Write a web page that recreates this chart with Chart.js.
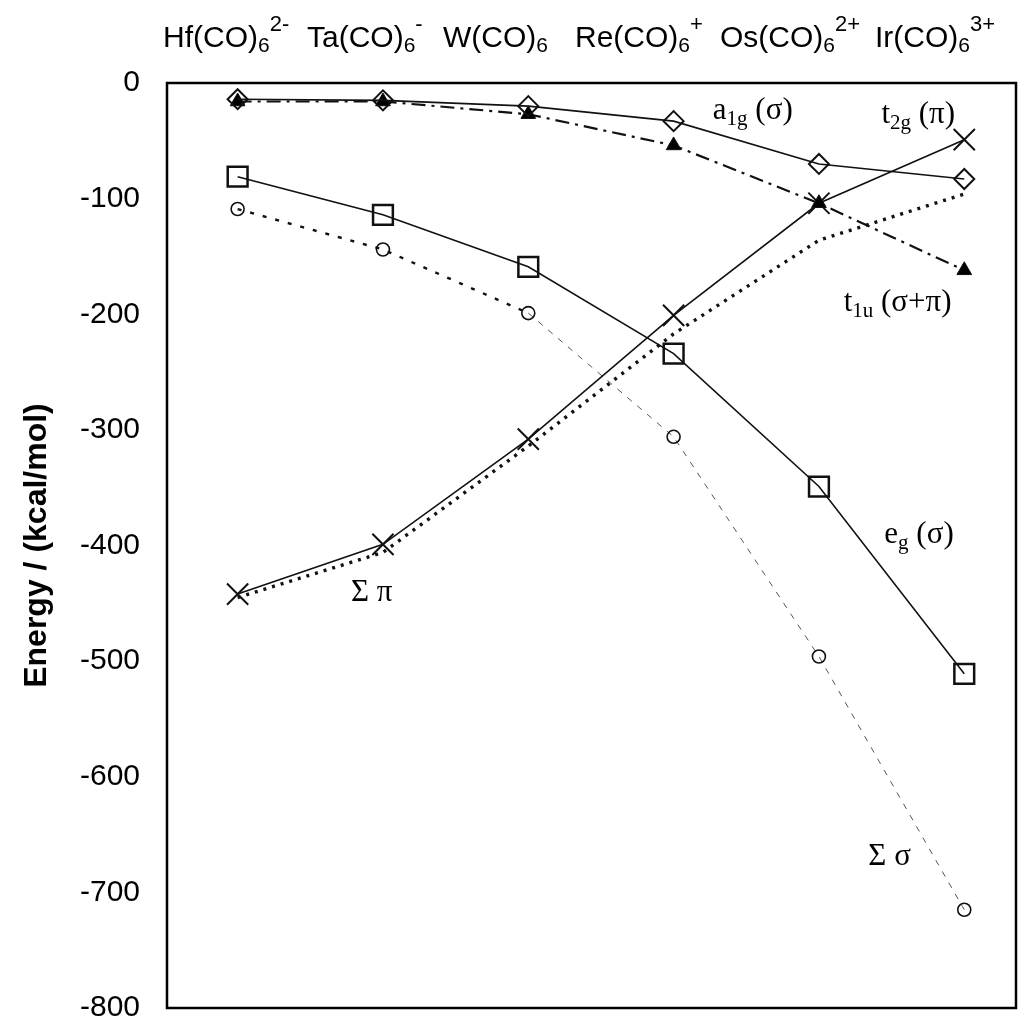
<!DOCTYPE html>
<html>
<head>
<meta charset="utf-8">
<script src="https://cdn.jsdelivr.net/npm/chart.js@4.4.1/dist/chart.umd.min.js"></script>
<style>
  html, body { margin: 0; padding: 0; background: #fff; }
  #wrap { width: 1033px; height: 1025px; }
</style>
</head>
<body>
<div id="wrap"><canvas id="c" width="1033" height="1025"></canvas></div>
<script>
// ---- data ----
const complexNames   = ['Hf(CO)', 'Ta(CO)', 'W(CO)', 'Re(CO)', 'Os(CO)', 'Ir(CO)'];
const complexSub     = ['6', '6', '6', '6', '6', '6'];
const complexCharge  = ['2-', '-', '', '+', '2+', '3+'];
const categoryIndex  = [1, 2, 3, 4, 5, 6];

const a1g      = [-14, -15, -20, -33, -70, -83];
const t1u      = [-16, -16, -27, -54, -104, -162];
const t2g      = [-442, -399, -308, -201, -104, -49];
const sumPi    = [-445, -406, -314, -217, -136, -96];
const eg       = [-81, -114, -159, -234, -349, -511];
const sumSigma = [-109, -144, -199, -306, -496, -715];

const yTicks = [0, -100, -200, -300, -400, -500, -600, -700, -800];

// ---- helpers ----
const pts = arr => arr.map((v, i) => ({ x: categoryIndex[i], y: v }));
const SANS = '"Liberation Sans", Arial, sans-serif';
const SERIF = '"Liberation Serif", "Times New Roman", serif';

function drawRuns(ctx, runs, x, y, opt) {
  let cx = x;
  ctx.textBaseline = 'alphabetic';
  ctx.textAlign = 'left';
  ctx.fillStyle = '#000';
  for (const r of runs) {
    if (!r.t) continue;
    let size = opt.size, dy = 0;
    if (r.sub) { size = opt.subSize; dy = opt.subDy; }
    if (r.sup) { size = opt.supSize || opt.subSize; dy = opt.supDy; }
    ctx.font = size + 'px ' + opt.family;
    ctx.fillText(r.t, cx, y + dy);
    cx += ctx.measureText(r.t).width;
  }
}

// annotation labels, placed in data coordinates
const curveLabels = [
  { x: 4.27, y: -31,  runs: [{t:'a'}, {t:'1g', sub:true}, {t:' (σ)'}] },
  { x: 5.43, y: -35,  runs: [{t:'t'}, {t:'2g', sub:true}, {t:' (π)'}] },
  { x: 5.17, y: -197, runs: [{t:'t'}, {t:'1u', sub:true}, {t:' (σ+π)'}] },
  { x: 5.45, y: -398, runs: [{t:'e'}, {t:'g', sub:true}, {t:' (σ)'}] },
  { x: 1.78, y: -448, runs: [{t:'Σ π'}] },
  { x: 5.34, y: -676, runs: [{t:'Σ σ'}] }
];

const topLabelX = [163, 307, 443, 575, 720, 875];

const decorPlugin = {
  id: 'decor',
  afterDatasetsDraw(chart) {
    const ctx = chart.ctx, a = chart.chartArea;
    const xs = chart.scales.x, ys = chart.scales.y;
    ctx.save();
    // frame
    ctx.strokeStyle = '#000';
    ctx.lineWidth = 2.5;
    ctx.strokeRect(a.left, a.top, a.right - a.left, a.bottom - a.top);
    // curve labels
    for (const l of curveLabels) {
      drawRuns(ctx, l.runs, xs.getPixelForValue(l.x), ys.getPixelForValue(l.y),
        { family: SERIF, size: 31, subSize: 21, subDy: 6, supDy: -12 });
    }
    // complex names above the plot
    for (let i = 0; i < complexNames.length; i++) {
      drawRuns(ctx, [{t: complexNames[i]}, {t: complexSub[i], sub: true}, {t: complexCharge[i], sup: true}],
        topLabelX[i], 47, { family: SANS, size: 30, subSize: 21, supSize: 22, subDy: 5, supDy: -16 });
    }
    ctx.restore();
  }
};

const base = { borderColor: '#111', borderWidth: 1.6, tension: 0, fill: false,
  pointBorderColor: '#111', pointBackgroundColor: 'rgba(0,0,0,0)' };

new Chart(document.getElementById('c'), {
  type: 'line',
  data: {
    datasets: [
      Object.assign({}, base, { label: 'a1g (σ)', data: pts(a1g), pointStyle: 'rectRot', pointRadius: 10, pointBorderWidth: 2 }),
      Object.assign({}, base, { label: 't1u (σ+π)', data: pts(t1u), borderWidth: 2.2, borderDash: [14, 6, 3, 6],
        pointStyle: 'triangle', pointRadius: 8.5, pointBackgroundColor: '#000', pointBorderWidth: 1 }),
      Object.assign({}, base, { label: 't2g (π)', data: pts(t2g), pointStyle: 'crossRot', pointRadius: 15, pointBorderWidth: 2 }),
      Object.assign({}, base, { label: 'Σ π', data: pts(sumPi), borderWidth: 3.4, borderDash: [3, 6], pointRadius: 0 }),
      Object.assign({}, base, { label: 'eg (σ)', data: pts(eg), pointStyle: 'rect', pointRadius: 14, pointBorderWidth: 2.5 }),
      Object.assign({}, base, { label: 'Σ σ', data: pts(sumSigma), borderWidth: 1, borderColor: '#444', borderDash: [6, 6],
        segment: {
          borderWidth: c => c.p0DataIndex < 2 ? 2.4 : 1,
          borderDash: c => c.p0DataIndex < 2 ? [4, 9] : [6, 7],
          borderColor: c => c.p0DataIndex < 2 ? '#111' : '#555'
        },
        pointStyle: 'circle', pointRadius: 6.5, pointBorderWidth: 1.6 })
    ]
  },
  options: {
    responsive: false,
    animation: false,
    devicePixelRatio: 1,
    layout: { padding: { top: 83, right: 8, bottom: 16, left: 0 } },
    plugins: { legend: { display: false }, tooltip: { enabled: false } },
    scales: {
      x: { type: 'linear', min: 0.514, max: 6.356, display: false },
      y: {
        min: -800, max: 0,
        afterBuildTicks: s => { s.ticks = yTicks.map(v => ({ value: v })); },
        afterFit: s => { s.width = 167; s.paddingTop = 0; s.paddingBottom = 0; },
        ticks: { color: '#000', padding: 27, font: { family: SANS, size: 30 } },
        grid: { display: false, drawTicks: false },
        border: { display: false },
        title: { display: true, text: 'Energy / (kcal/mol)', color: '#000',
          font: { family: SANS, size: 32, weight: 'bold' }, padding: { top: 18, bottom: 0 } }
      }
    }
  },
  plugins: [decorPlugin]
});
</script>
</body>
</html>
